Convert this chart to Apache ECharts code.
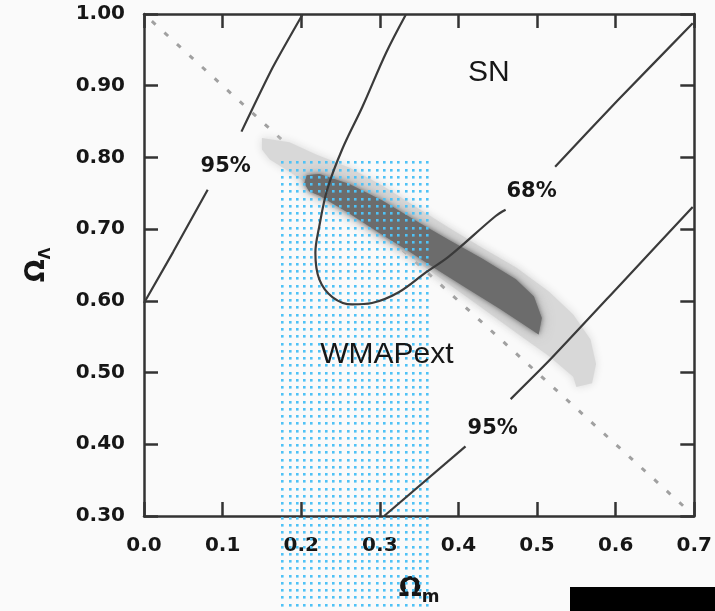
<!DOCTYPE html>
<html><head><meta charset="utf-8">
<script src="https://cdn.jsdelivr.net/npm/echarts@6/dist/echarts.min.js"></script>
<style>html,body{margin:0;padding:0;background:#fafafa}#c{width:715px;height:611px}</style>
</head><body><div id="c"></div>
<script>
// ---- data ----
const xTickValues = [0.0, 0.1, 0.2, 0.3, 0.4, 0.5, 0.6, 0.7];
const xTickLabels = ['0.0', '0.1', '0.2', '0.3', '0.4', '0.5', '0.6', '0.7'];
const yTickValues = [0.3, 0.4, 0.5, 0.6, 0.7, 0.8, 0.9, 1.0];
const yTickLabels = ['0.30', '0.40', '0.50', '0.60', '0.70', '0.80', '0.90', '1.00'];

// flat universe line (Omega_m + Omega_Lambda = 1)
const flatLine = [[0.01, 0.99], [0.69, 0.31]];

// WMAPext constraint box: Omega_m range and top Omega_Lambda
const wmapOmegaM = [0.176, 0.3625];
const wmapLambdaTop = 0.793;

// combined likelihood: outer (95%) and inner (68%) regions
const outerRegion = [
  [0.150, 0.827], [0.185, 0.821], [0.219, 0.804], [0.261, 0.786], [0.303, 0.761],
  [0.346, 0.731], [0.388, 0.702], [0.430, 0.674], [0.473, 0.647], [0.515, 0.613],
  [0.546, 0.581], [0.568, 0.546], [0.575, 0.512], [0.570, 0.485], [0.550, 0.480],
  [0.546, 0.494], [0.515, 0.523], [0.473, 0.556], [0.430, 0.590], [0.388, 0.623],
  [0.346, 0.656], [0.303, 0.690], [0.261, 0.723], [0.219, 0.755], [0.185, 0.780],
  [0.160, 0.797], [0.150, 0.811]
];
const innerRegion = [
  [0.207, 0.775], [0.223, 0.777], [0.261, 0.763], [0.303, 0.740], [0.350, 0.709],
  [0.388, 0.685], [0.430, 0.659], [0.473, 0.630], [0.496, 0.606], [0.506, 0.576],
  [0.502, 0.553], [0.483, 0.567], [0.451, 0.590], [0.413, 0.616], [0.375, 0.642],
  [0.337, 0.669], [0.299, 0.695], [0.261, 0.722], [0.223, 0.747], [0.210, 0.753],
  [0.204, 0.764]
];

// SN contours
const sn95LeftLower = [[0.0, 0.597], [0.037, 0.668], [0.081, 0.755]];
const sn95LeftUpper = [[0.124, 0.836], [0.1635, 0.925], [0.2015, 0.999]];
const sn68Loop = [
  [0.333, 0.999], [0.308, 0.946], [0.278, 0.871], [0.252, 0.811], [0.233, 0.755],
  [0.223, 0.704], [0.218, 0.667], [0.223, 0.630], [0.240, 0.605], [0.265, 0.595],
  [0.290, 0.597], [0.324, 0.612], [0.359, 0.640], [0.388, 0.662], [0.447, 0.718],
  [0.460, 0.727]
];
const sn68Upper = [[0.523, 0.787], [0.603, 0.880], [0.698, 0.987]];
const sn95RightLower = [[0.3055, 0.300], [0.409, 0.397]];
const sn95RightUpper = [[0.4664, 0.463], [0.517, 0.5185], [0.607, 0.624], [0.698, 0.731]];

// annotations
const contourLabels = [
  { text: '95%', pos: [0.104, 0.787] },
  { text: '68%', pos: [0.493, 0.752] },
  { text: '95%', pos: [0.4436, 0.4225] }
];
const regionLabels = [
  { text: 'SN', pos: [0.4385, 0.918] },
  { text: 'WMAPext', pos: [0.309, 0.5255] }
];

// ---- chart ----
const chart = echarts.init(document.getElementById('c'), null, { renderer: 'canvas' });

const axisColor = '#333';
const textColor = '#161616';
const tickFont = { fontFamily: 'DejaVu Sans', fontWeight: 'bold', fontSize: 20, color: textColor };
const DOT_STEP = 7.25, DOT_SIZE = 2.6, DOT_COLOR = '#4fc2f6';

function region(pts, color, z, blur) {
  return {
    type: 'custom', z: z, silent: true, animation: false,
    data: [pts[0]],
    renderItem: function (params, api) {
      return {
        type: 'polygon',
        shape: { points: pts.map(p => api.coord(p)) },
        style: { fill: color, shadowBlur: blur, shadowColor: color }
      };
    }
  };
}
function contour(pts, smooth) {
  return {
    type: 'line', data: pts, symbol: 'none', smooth: smooth, z: 6,
    lineStyle: { color: '#3a3a3a', width: 2.2 }, animation: false, silent: true
  };
}

const xLab = {}; xTickValues.forEach((v, i) => xLab[v.toFixed(1)] = xTickLabels[i]);
const yLab = {}; yTickValues.forEach((v, i) => yLab[v.toFixed(2)] = yTickLabels[i]);

const xBase = {
  type: 'value', min: xTickValues[0], max: xTickValues[xTickValues.length - 1],
  interval: xTickValues[1] - xTickValues[0],
  axisLine: { show: true, onZero: false, lineStyle: { color: axisColor, width: 2.5 } },
  axisTick: { show: true, inside: true, length: 14, lineStyle: { color: axisColor, width: 2.5 } },
  splitLine: { show: false }
};
const yBase = {
  type: 'value', min: yTickValues[0], max: yTickValues[yTickValues.length - 1],
  interval: 0.1,
  axisLine: { show: true, onZero: false, lineStyle: { color: axisColor, width: 2.5 } },
  axisTick: { show: true, inside: true, length: 14, lineStyle: { color: axisColor, width: 2.5 } },
  splitLine: { show: false }
};

chart.setOption({
  backgroundColor: '#fafafa',
  animation: false,
  grid: { left: 144, right: 19, top: 14, bottom: 94, show: true, backgroundColor: '#fafafa', borderWidth: 0 },
  xAxis: [
    Object.assign({}, xBase, {
      position: 'bottom',
      axisLabel: Object.assign({ margin: 20, formatter: v => xLab[v.toFixed(1)] }, tickFont),
      name: '{o|Ω}{s|m}', nameLocation: 'middle', nameGap: 56,
      nameTextStyle: {
        rich: {
          o: { fontFamily: 'DejaVu Sans', fontWeight: 'bold', fontSize: 27, color: textColor, lineHeight: 34, verticalAlign: 'middle' },
          s: { fontFamily: 'DejaVu Sans', fontWeight: 'bold', fontSize: 17, color: textColor, lineHeight: 17, verticalAlign: 'bottom' }
        }
      }
    }),
    Object.assign({}, xBase, { position: 'top', axisLabel: { show: false } })
  ],
  yAxis: [
    Object.assign({}, yBase, {
      position: 'left',
      axisLabel: Object.assign({ margin: 19, formatter: v => yLab[v.toFixed(2)] }, tickFont),
      name: '{o|Ω}{s|Λ}', nameLocation: 'middle', nameGap: 90,
      nameTextStyle: {
        rich: {
          o: { fontFamily: 'DejaVu Sans', fontWeight: 'bold', fontSize: 27, color: textColor, lineHeight: 34, verticalAlign: 'middle' },
          s: { fontFamily: 'DejaVu Sans', fontWeight: 'bold', fontSize: 15, color: textColor, lineHeight: 15, verticalAlign: 'bottom' }
        }
      }
    }),
    Object.assign({}, yBase, { position: 'right', axisLabel: { show: false } })
  ],
  series: [
    {
      type: 'line', data: flatLine, symbol: 'none', z: 2, silent: true,
      lineStyle: { color: '#a0a0a0', width: 3, type: [5, 12] }
    },
    region(outerRegion, '#d8d8d8', 3, 8),
    region(innerRegion, '#a6a6a6', 3.5, 14),
    region(innerRegion, '#6c6c6c', 4, 5),
    {
      type: 'custom', z: 5, silent: true, clip: false,
      data: [[wmapOmegaM[0], wmapLambdaTop]],
      renderItem: function (params, api) {
        const tl = api.coord([wmapOmegaM[0], wmapLambdaTop]);
        const br = api.coord([wmapOmegaM[1], yTickValues[0]]);
        const H = api.getHeight();
        const children = [];
        for (let y = tl[1]; y <= H + 1; y += DOT_STEP) {
          for (let x = tl[0]; x <= br[0] + 0.5; x += DOT_STEP) {
            children.push({
              type: 'rect',
              shape: { x: Math.round(x) - 1, y: Math.round(y) - 1, width: DOT_SIZE, height: DOT_SIZE },
              style: { fill: DOT_COLOR }
            });
          }
        }
        return { type: 'group', children: children };
      }
    },
    contour(sn95LeftLower, false),
    contour(sn95LeftUpper, 0.2),
    contour(sn68Loop, 0.35),
    contour(sn68Upper, 0.2),
    contour(sn95RightLower, false),
    contour(sn95RightUpper, 0.2),
    {
      type: 'scatter', symbolSize: 0, z: 8, silent: true, itemStyle: { opacity: 1 },
      data: contourLabels.map(l => ({ value: l.pos, name: l.text })),
      label: { show: true, position: 'inside', formatter: p => p.name,
        fontFamily: 'DejaVu Sans', fontWeight: 'bold', fontSize: 21, color: textColor }
    },
    {
      type: 'scatter', symbolSize: 0, z: 8, silent: true, itemStyle: { opacity: 1 },
      data: regionLabels.map(l => ({ value: l.pos, name: l.text })),
      label: { show: true, position: 'inside', formatter: p => p.name,
        fontFamily: 'Liberation Sans', fontSize: 30, color: textColor }
    }
  ],
  graphic: [
    { type: 'rect', left: 570, top: 587, shape: { width: 145, height: 24 }, style: { fill: '#000' }, z: 100 }
  ]
});
</script></body></html>
